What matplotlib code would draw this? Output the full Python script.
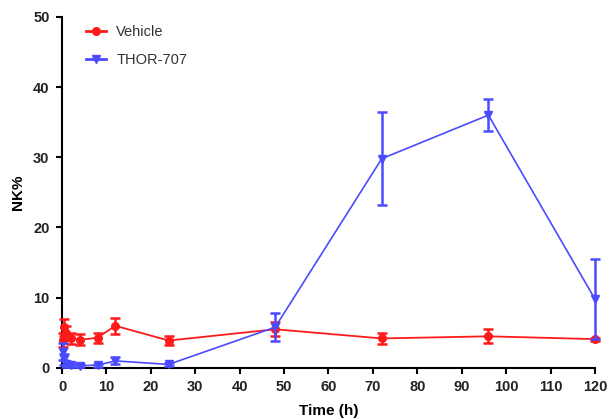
import matplotlib
matplotlib.use("Agg")
import matplotlib.pyplot as plt
from matplotlib.lines import Line2D

time_h = [0.25, 0.5, 1, 2, 4, 8, 12, 24, 48, 72, 96, 120]
vehicle = [4.0, 5.8, 5.0, 4.2, 4.0, 4.3, 6.0, 3.9, 5.5, 4.2, 4.5, 4.1]
vehicle_err = [1.0, 1.2, 1.0, 0.8, 0.8, 0.7, 1.1, 0.7, 1.0, 0.8, 1.0, 0.2]
thor = [2.3, 1.2, 0.6, 0.4, 0.3, 0.4, 1.0, 0.5, 5.8, 29.8, 36.0, 9.8]
thor_err = [1.2, 0.8, 0.4, 0.2, 0.2, 0.2, 0.5, 0.2, 2.0, 6.6, 2.3, 5.7]
xticks = list(range(0, 121, 10))
yticks = list(range(0, 51, 10))

plt.rcParams['font.family'] = ['Liberation Sans', 'DejaVu Sans']

fig = plt.figure(figsize=(6.14, 4.2), dpi=100)
ax = fig.add_axes([0.101, 0.124, 0.868, 0.836])

red = '#ff1a1a'
blue = '#4a4aff'
ax.errorbar(time_h, vehicle, yerr=vehicle_err, color=red, marker='o', ms=5.5,
            lw=1.3, elinewidth=1.8, capsize=3.5, capthick=1.8,
            clip_on=False, zorder=3)
ax.errorbar(time_h, thor, yerr=thor_err, color=blue, marker='v', ms=5.5,
            lw=1.2, elinewidth=1.8, capsize=3.5, capthick=1.8,
            clip_on=False, zorder=4)

ax.set_xlim(0, 120)
ax.set_ylim(0, 50)
ax.set_xticks(xticks)
ax.set_yticks(yticks)
for s in ['top', 'right']:
    ax.spines[s].set_visible(False)
for s in ['left', 'bottom']:
    ax.spines[s].set_linewidth(1.5)
ax.tick_params(direction='out', length=4, width=1.5, labelsize=10.5, pad=5)
for lab in ax.get_xticklabels() + ax.get_yticklabels():
    lab.set_fontweight('bold')
    lab.set_color('#222222')
ax.set_xlabel('Time (h)', fontsize=11, fontweight='bold', labelpad=7)
ax.set_ylabel('NK%', fontsize=11, fontweight='bold', labelpad=6)

handles = [Line2D([], [], color=red, marker='o', ms=5.5, lw=2),
           Line2D([], [], color=blue, marker='v', ms=5.5, lw=2)]
leg = ax.legend(handles, ['Vehicle', 'THOR-707'], loc='upper left',
                bbox_to_anchor=(0.02, 1.015), frameon=False, fontsize=10.5,
                handlelength=1.4, handletextpad=0.7, labelspacing=1.0)
for t in leg.get_texts():
    t.set_color('#333333')

fig.savefig('out.png', dpi=100)
